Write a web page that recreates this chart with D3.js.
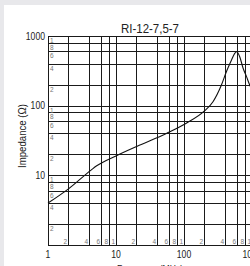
<!DOCTYPE html>
<html>
<head>
<meta charset="utf-8">
<script src="https://cdn.jsdelivr.net/npm/d3@7"></script>
<style>
  html, body { margin: 0; padding: 0; background: #e8e8eb; overflow: hidden; }
  text { font-family: "Liberation Sans Narrow", "Liberation Sans", sans-serif; }
</style>
</head>
<body>
<div id="chart"></div>
<script>
// curve
var freq = [1, 2, 4.3, 5.2, 10, 22, 55, 108, 200, 267, 355, 420, 500, 557, 596, 660, 740, 830, 925, 1000];
var imp  = [4, 6.4, 11.9, 13.7, 19, 27, 40, 56, 84, 114, 198, 307, 452, 564, 595, 504, 344, 261, 198, 170];

var xMajor = [1, 10, 100, 1000];
var yMajor = [1, 10, 100, 1000];
var minorSteps = [1, 2, 4, 6, 8];
var minorLabels = ["1", "2", "4", "6", "8"];

var title = "RI-12-7,5-7";
var xTitle = "Frequency (MHz)";
var yTitle = "Impedance (\u03a9)";

var W = 250, H = 266;
var plotLeft = 48, plotTop = 36, plotBottom = 245;

var svg = d3.select('#chart').append('svg')
  .attr('width', W)
  .attr('height', H);

// white panel
svg.append('rect')
  .attr('x', 4).attr('y', 5)
  .attr('width', W).attr('height', H)
  .attr('fill', '#fff');

var x = d3.scaleLog().domain([1, 1000]).range([plotLeft, plotLeft + 204]);
var y = d3.scaleLog().domain([1, 1000]).range([plotBottom, plotTop]);

// grid values: 1,2,4,6,8 per decade
var gridVals = [];
[1, 10, 100].forEach(function (d) {
  minorSteps.forEach(function (s, i) { gridVals.push({v: d * s, lab: minorLabels[i]}); });
});
gridVals.push({v: 1000, lab: "1"});

var crisp = function (p) { return Math.round(p) + 0.5; };

var g = svg.append('g');

// horizontal lines
g.selectAll('line.h').data(gridVals).enter().append('line')
  .attr('class', 'h')
  .attr('x1', plotLeft).attr('x2', W + 10)
  .attr('y1', function (d) { return crisp(y(d.v)); })
  .attr('y2', function (d) { return crisp(y(d.v)); })
  .attr('stroke', '#1a1a1a').attr('stroke-width', 1);

// vertical lines
g.selectAll('line.v').data(gridVals).enter().append('line')
  .attr('class', 'v')
  .attr('y1', crisp(plotTop)).attr('y2', crisp(plotBottom))
  .attr('x1', function (d) { return crisp(x(d.v)); })
  .attr('x2', function (d) { return crisp(x(d.v)); })
  .attr('stroke', '#1a1a1a').attr('stroke-width', 1);

// small labels inside the grid, y side
g.selectAll('text.ym').data(gridVals.filter(function (d) { return d.v > 1; })).enter().append('text')
  .attr('class', 'ym')
  .attr('x', plotLeft + 2)
  .attr('y', function (d) { return crisp(y(d.v)) + 6; })
  .attr('font-size', 6.5)
  .attr('fill', '#777')
  .text(function (d) { return d.lab; });

// small labels inside the grid, x side
g.selectAll('text.xm').data(gridVals.filter(function (d) { return d.v > 1; })).enter().append('text')
  .attr('class', 'xm')
  .attr('x', function (d) { return crisp(x(d.v)) - 1.5; })
  .attr('y', plotBottom - 1.5)
  .attr('text-anchor', 'end')
  .attr('font-size', 6.5)
  .attr('fill', '#777')
  .text(function (d) { return d.lab; });

// curve
var pts = freq.map(function (f, i) { return [f, imp[i]]; });
var line = d3.line()
  .x(function (d) { return x(d[0]); })
  .y(function (d) { return y(d[1]); })
  .curve(d3.curveMonotoneX);

svg.append('path')
  .datum(pts)
  .attr('d', line)
  .attr('fill', 'none')
  .attr('stroke', '#111')
  .attr('stroke-width', 1.1);

// major tick labels (narrow look via textLength)
svg.selectAll('text.yl').data(yMajor.filter(function (d) { return d > 1; })).enter().append('text')
  .attr('class', 'yl')
  .attr('x', 45)
  .attr('y', function (d) { return y(d) + 3.5; })
  .attr('text-anchor', 'end')
  .attr('font-size', 10.5)
  .attr('textLength', function (d) { return String(d).length * 4.8; })
  .attr('lengthAdjust', 'spacingAndGlyphs')
  .attr('fill', '#222')
  .text(function (d) { return d; });

svg.selectAll('text.xl').data(xMajor).enter().append('text')
  .attr('class', 'xl')
  .attr('x', function (d) { return x(d); })
  .attr('y', 258)
  .attr('text-anchor', 'middle')
  .attr('font-size', 10.5)
  .attr('textLength', function (d) { return String(d).length * 4.8; })
  .attr('lengthAdjust', 'spacingAndGlyphs')
  .attr('fill', '#222')
  .text(function (d) { return d; });

// titles
svg.append('text')
  .attr('x', 150).attr('y', 33)
  .attr('text-anchor', 'middle')
  .attr('font-size', 13)
  .attr('textLength', 58)
  .attr('lengthAdjust', 'spacingAndGlyphs')
  .attr('fill', '#222')
  .text(title);

svg.append('text')
  .attr('transform', 'translate(26,' + 136 + ') rotate(-90)')
  .attr('text-anchor', 'middle')
  .attr('font-size', 10.5)
  .attr('textLength', 64)
  .attr('lengthAdjust', 'spacingAndGlyphs')
  .attr('fill', '#222')
  .text(yTitle);

svg.append('text')
  .attr('x', 150).attr('y', 273)
  .attr('text-anchor', 'middle')
  .attr('font-size', 10.5)
  .attr('textLength', 66)
  .attr('lengthAdjust', 'spacingAndGlyphs')
  .attr('fill', '#222')
  .text(xTitle);
</script>
</body>
</html>
